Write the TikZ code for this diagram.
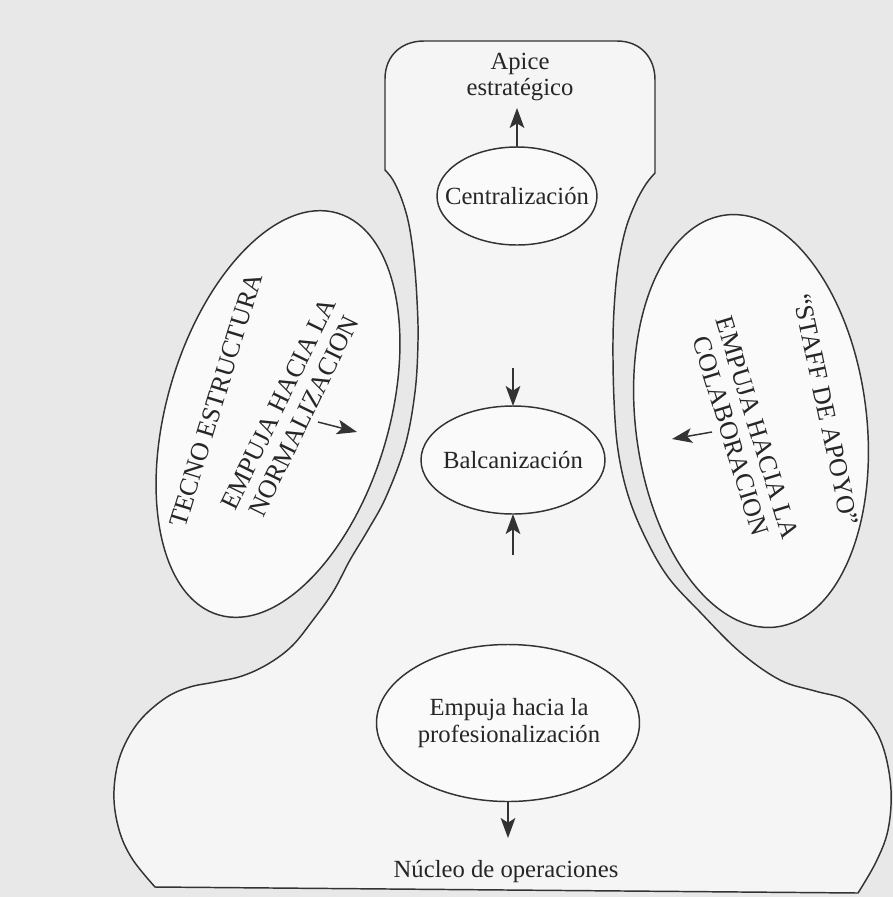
\documentclass[tikz,border=0pt]{standalone}
\usepackage{fontspec}
\setmainfont{Liberation Serif}
\usetikzlibrary{shapes.geometric,arrows.meta}
\begin{document}
\begin{tikzpicture}[x=0.75pt,y=-0.75pt,
  line/.style={draw=black!80,line width=1.1pt},
  oval/.style={ellipse,line,fill=black!2,inner sep=0pt,outer sep=0pt},
  lbl/.style={font=\fontsize{18.5}{20}\selectfont,text=black!85,align=center,inner sep=0pt},
  caps/.style={font=\fontsize{19.5}{21}\selectfont,text=black!85,align=center,inner sep=0pt},
  arr/.style={line,-{Stealth[length=15pt,width=11pt,inset=3.5pt]}}]
\fill[black!9] (0,0) rectangle (893,897);
\useasboundingbox (0,0) rectangle (893,897);

% outer outline
\path[line,fill=black!4] (385,170) -- (385,79) .. controls (385,56) and (401,41) .. (424,41)
  -- (617,41) .. controls (640,41) and (655,57) .. (655,80) -- (655,173)
  -- plot[smooth,tension=0.6] coordinates {(655,173) (646,184) (636,202) (626,228) (619,260) (615,295)
     (613,340) (614,400) (618,450) (628,495) (645,537) (668,577) (700,612) (740,652) (780,680)
     (815,691) (846,700) (870,722) (884,750) (891,790) (888,830) (876,862) (858,893)}
  -- (155,887)
  -- plot[smooth,tension=0.6] coordinates {(155,887) (133,860) (120,833) (114,800) (117,767) (127,740)
     (143,717) (167,697) (190,687) (215,682) (242,676) (268,664) (292,646) (313,620) (333,592)
     (350,560) (368,530) (386,497) (405,446) (415,392) (418,341) (417,300) (414,260) (409,225)
     (402,200) (393,180) (385,170)}
  -- cycle;

% ellipses
\node[oval,minimum width=160*0.75pt,minimum height=98*0.75pt] (centr) at (517,196) {};
\node[oval,minimum width=184*0.75pt,minimum height=108*0.75pt] (balc) at (513,460) {};
\node[oval,minimum width=263*0.75pt,minimum height=157*0.75pt] (prof) at (508,723) {};
\node[oval,minimum width=419*0.75pt,minimum height=222*0.75pt,rotate=73.5] (tecno) at (278,414) {};
\node[oval,minimum width=415*0.75pt,minimum height=231*0.75pt,rotate=-83] (staff) at (751,421) {};

% texts
\node[lbl,font=\fontsize{18.5}{19}\selectfont] (apice) at (520,77) {Apice\\estratégico};
\node[lbl] (centrtxt) at (centr.center) {Centralización};
\node[lbl] (balctxt) at (balc.center) {Balcanización};
\node[lbl] (proftxt) at (509,723) {Empuja hacia la\\profesionalización};
\node[lbl] (nucleo) at (506,872) {Núcleo de operaciones};
\node[caps,rotate=73] (tecnotxt) at (216,400) {TECNO ESTRUCTURA};
\node[caps,rotate=64] (normtxt) at (291,410) {EMPUJA HACIA LA\\NORMALIZACION};
\node[caps,rotate=-78] (stafftxt) at (826,410) {“STAFF DE APOYO”};
\node[caps,rotate=-73] (colabtxt) at (744,432) {EMPUJA HACIA LA\\COLABORACION};

% arrow end points
\coordinate (apicetip) at (517,108);
\coordinate (balctop) at (513,368);
\coordinate (balcbot) at (513,555);
\coordinate (larrs) at (318,422);
\coordinate (larre) at (357,432);
\coordinate (rarrs) at (712,432);
\coordinate (rarre) at (672,439);
\coordinate (nucleotip) at (508,838);

\draw[arr] (centr.north) -- (apicetip);
\draw[arr] (balctop) -- (balc.north);
\draw[arr] (balcbot) -- (balc.south);
\draw[arr] (larrs) -- (larre);
\draw[arr] (rarrs) -- (rarre);
\draw[arr] (prof.south) -- (nucleotip);
\end{tikzpicture}
\end{document}
